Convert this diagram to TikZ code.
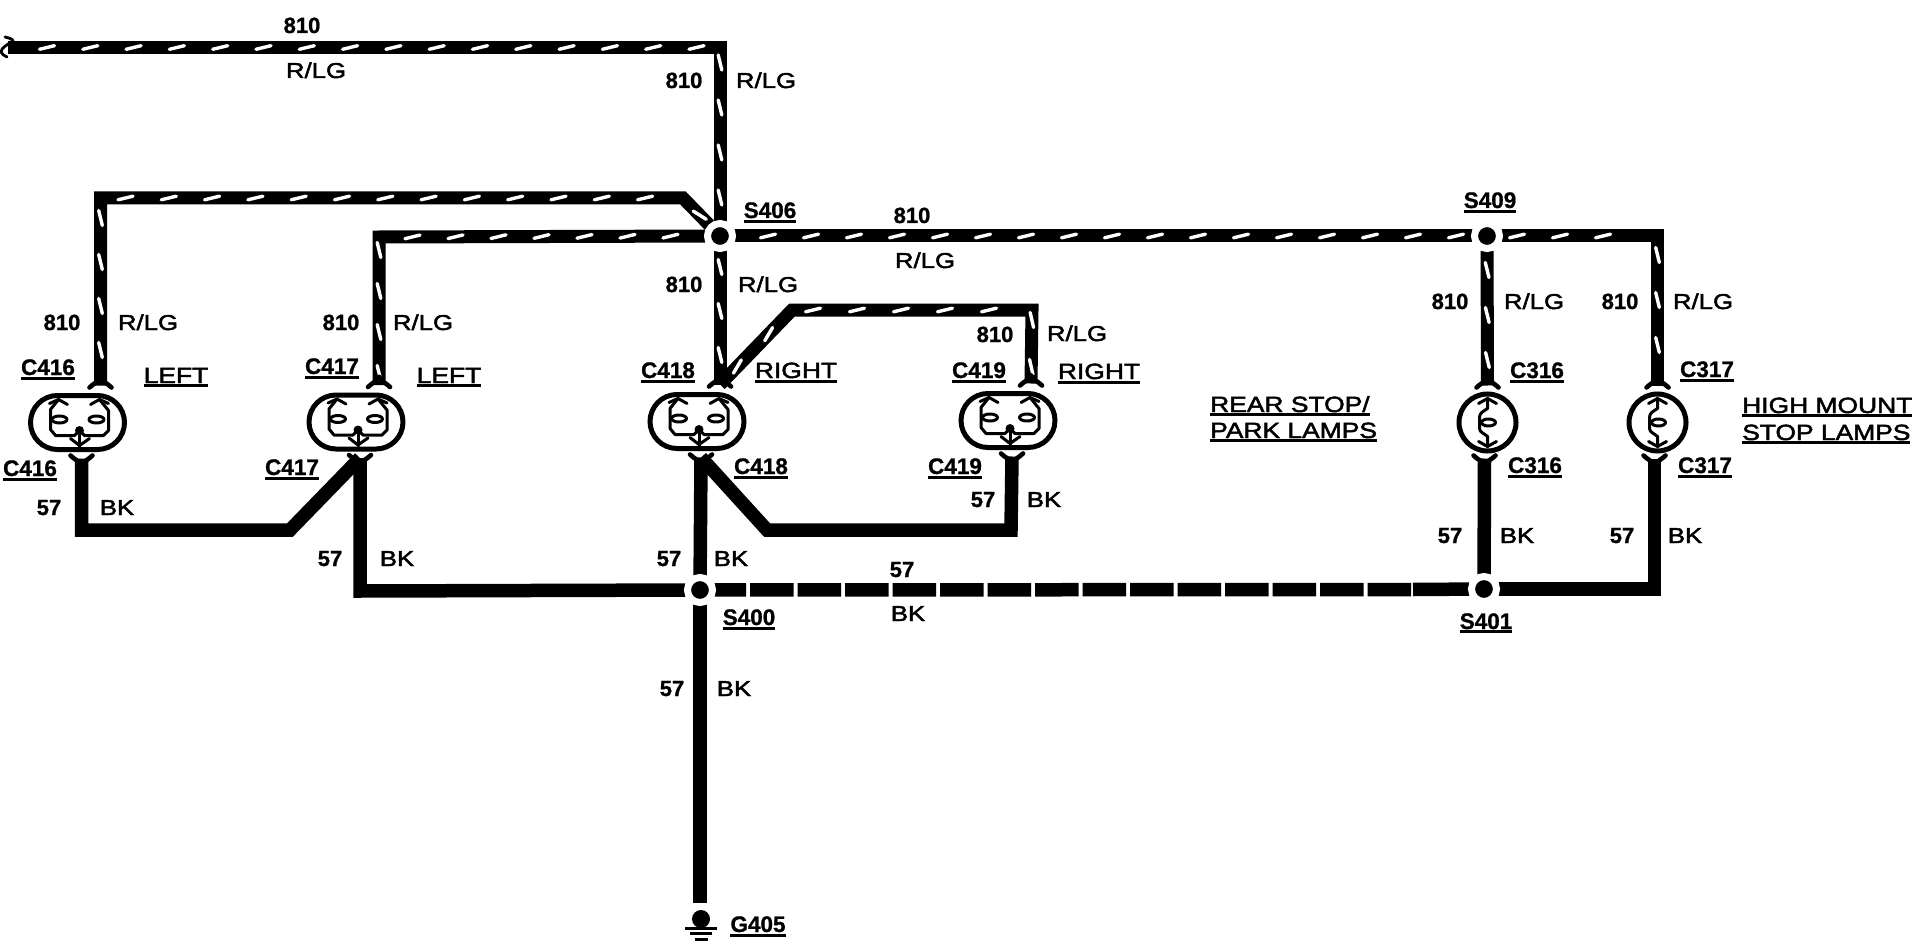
\documentclass[tikz,border=0pt]{standalone}
\usepackage{fontspec}
\setmainfont{Liberation Sans}
\newfontfamily\widefont[FakeStretch=1.2,FakeBold=2.2]{Liberation Sans}
\newfontfamily\numfont[UprightFont=* Bold,FakeBold=1]{Liberation Sans}
\usetikzlibrary{decorations.markings,backgrounds}
\newcommand{\ulbl}[2][1.5pt]{\vtop{\hbox{#2}\kern#1\hrule height 3pt}}
\tikzset{
  x=1pt,y=-1pt,
  wire/.style={line width=13pt,black},
  bkwire/.style={line width=13.5pt,black},
  stripes/.style n args={3}{postaction={decorate},decoration={markings,
    mark=between positions #1pt and #2pt step #3pt with {\draw[white,line width=3.4pt,line cap=round] (-7.5pt,-1.8pt)--(7.5pt,1.8pt);}}},
  junction/.style={circle,fill=black,draw=white,line width=7pt,minimum size=25pt,inner sep=0pt,outer sep=0pt},
  num/.style={anchor=base,inner sep=0pt,font=\fontsize{22}{24}\selectfont\numfont},
  col/.style={anchor=base,inner sep=0pt,font=\fontsize{21.5}{24}\selectfont\widefont},
  tagb/.style={anchor=base,inner sep=0pt,font=\fontsize{22.5}{24}\selectfont\numfont},
  tagw/.style={anchor=base,inner sep=0pt,font=\fontsize{22}{24}\selectfont\widefont},
  tagl/.style={anchor=base west,inner sep=0pt,font=\fontsize{22}{24}\selectfont\widefont},
  fine/.style={line width=3pt,black,line cap=round,line join=round},
  forkline/.style={line width=4.6pt,black,line cap=round},
  forktop/.pic={
    \draw[forkline] (-11,2) .. controls (-7,-2) and (-3,-3) .. (0,-8);
    \draw[forkline] (11,2) .. controls (7,-2) and (3,-3) .. (0,-8);},
  forkbot/.pic={
    \draw[forkline] (-11,-3) .. controls (-7,1) and (-3,2) .. (0,7);
    \draw[forkline] (11,-3) .. controls (7,1) and (3,2) .. (0,7);},
  plug/.pic={
    \draw[line width=5pt,rounded corners=27] (-47,-27) rectangle (47,27);
    \draw[fine] (-19,-23)--(-27,-13)--(-27,7) -- (-22,13) -- (-3,13) -- (2,8) -- (7,13) -- (26,13) -- (31,8) -- (31,-12) -- (22,-23);
    \draw[fine] (-28,-19)--(-19,-23)--(-10,-18);
    \draw[fine] (13,-18)--(22,-23)--(31,-19);
    \draw[fine,fill=white] (-18,-3) ellipse (7.5 and 3.5);
    \draw[fine,fill=white] (19,-3) ellipse (7.5 and 3.5);
    \fill (2,8) circle (4.5);
    \draw[fine] (2,8)--(2,24);
    \draw[fine] (-7,16)--(2,23)--(12,16);
    \coordinate (-top) at (23,-37);
    \coordinate (-bot) at (4,36);
    \pic at (-top) {forktop};
    \pic at (-bot) {forkbot};},
  lampc/.pic={
    \draw[line width=5pt] (0,0) circle (28.5);
    \draw[fine] (0,-24)--(0,-14) .. controls (-4,-11) and (-8,-10) .. (-8,-5) -- (-8,6) .. controls (-8,10) and (-3,11) .. (0,14) -- (0,24);
    \draw[fine] (-9,-19)--(0,-24)--(9,-19);
    \draw[fine] (-9,19)--(0,24)--(9,19);
    \draw[fine,fill=white] (1,0) ellipse (7 and 3.5);
    \coordinate (-top) at (0,-37);
    \coordinate (-bot) at (-3,36);
    \pic at (-top) {forktop};
    \pic at (-bot) {forkbot};},
}
\begin{document}
\begin{tikzpicture}
\useasboundingbox (0,0) rectangle (1912,944);
% junctions
\node[junction] (S406) at (720,236) {};
\node[junction] (S409) at (1487,236) {};
\node[junction] (S400) at (700,590) {};
\node[junction] (S401) at (1484,589) {};
% connectors
\pic (c416) at (77.5,422.5) {plug};
\pic (c417) at (356,422) {plug};
\pic (c418) at (697,421.5) {plug};
\pic (c419) at (1008,420.5) {plug};
\pic (c316) at (1487.5,422.5) {lampc};
\pic (c317) at (1657.5,422.5) {lampc};
% ground
\node[circle,fill=black,minimum size=18pt,inner sep=0pt] (G405) at (701,919) {};
\coordinate (g1a) at (685,928); \coordinate (g1b) at (717,928);
\coordinate (g2a) at (690,933); \coordinate (g2b) at (712,933);
\coordinate (g3a) at (695,939); \coordinate (g3b) at (708,939);
\draw[line width=3pt] (g1a)--(g1b) (g2a)--(g2b) (g3a)--(g3b);
% bends
\coordinate (brk) at (8,47.5);
\coordinate (tc) at (720,47.5);
\coordinate (a1) at (100.5,198);
\coordinate (a2) at (683,198);
\coordinate (b1) at (379,237);
\coordinate (d1) at (792,310);
\coordinate (d2) at (1032,310);
\coordinate (e1) at (1657.5,236);
\coordinate (f1) at (81.5,530);
\coordinate (f2) at (290,530);
\coordinate (h1) at (360,591);
\coordinate (k1) at (767,530);
\coordinate (k2) at (1011,530);
\coordinate (m1) at (1654.5,589);
\coordinate (s1) at (1413,589.5);
\coordinate (gtop) at (700,903);
\begin{scope}[on background layer]
 % 810 wires
 \draw[wire,miter limit=10] (brk)--(tc)--(S406);
 \path[stripes={39}{-20}{43.3}] (brk)--(tc);
 \path[stripes={15}{-26}{45}] (tc)--(S406.center);
 \draw[wire] (c416-top)--(a1)--(a2)--(S406);
 \path[stripes={20}{-12}{44}] (a1)--(c416-top);
 \path[stripes={25}{-12}{43.3}] (a1)--(a2);
 \path[stripes={24}{-25}{45}] (a2)--(S406.center);
 \draw[wire] (c417-top)--(b1)--(S406);
 \path[stripes={13}{-12}{41}] (b1)--(c417-top);
 \path[stripes={33.5}{-22}{43}] (b1)--(S406.center);
 \draw[wire] (S406)--(c418-top);
 \path[stripes={31}{-18}{44}] (S406.center)--(c418-top);
 \draw[wire] (c418-top)--(d1)--(d2)--(c419-top);
 \path[stripes={25}{-12}{45}] (c418-top)--(d1);
 \path[stripes={21}{-20}{44}] (d1)--(d2);
 \path[stripes={10}{-8}{47}] (d2)--(c419-top);
 \draw[wire] (S406)--(S409);
 \path[stripes={48}{-20}{43}] (S406.center)--(S409.center);
 \draw[wire] (S409)--(c316-top);
 \path[stripes={34}{-8}{45}] (S409.center)--(c316-top);
 \draw[wire] (S409)--(e1)--(c317-top);
 \path[stripes={30}{-16}{43}] (S409.center)--(e1);
 \path[stripes={19}{-12}{45}] (e1)--(c317-top);
 % 57 wires
 \draw[bkwire] (c416-bot)--(f1)--(f2)--(c417-bot);
 \draw[bkwire] (c417-bot)--(h1)--(S400);
 \draw[bkwire] (c418-bot)--(S400);
 \draw[bkwire] (c418-bot)--(k1)--(k2)--(c419-bot);
 \draw[bkwire,dash pattern=on 43.5pt off 4pt,dash phase=45pt] (S400.center)--(s1);
 \draw[bkwire] (s1)--(S401);
 \draw[bkwire] (S401)--(m1)--(c317-bot);
 \draw[bkwire] (c316-bot)--(S401);
 \draw[bkwire] (S400)--(gtop);
\end{scope}
% wire break
\draw[line width=2.8pt,line cap=round] (5,37) .. controls (9,38) and (13,39) .. (13,41) .. controls (8,44) and (1,48) .. (1,52) .. controls (2,54) and (4,56) .. (7,57);
% numbers
\node[num] (t1) at (302,33) {810};
\node[num] (t2) at (684,88) {810};
\node[num] (t3) at (912,223) {810};
\node[num] (t4) at (62,330) {810};
\node[num] (t5) at (341,330) {810};
\node[num] (t6) at (684,292) {810};
\node[num] (t7) at (995,342) {810};
\node[num] (t8) at (1450,309) {810};
\node[num] (t9) at (1620,309) {810};
\node[num] (t10) at (49,515) {57};
\node[num] (t11) at (330,566) {57};
\node[num] (t12) at (983,507) {57};
\node[num] (t13) at (669,566) {57};
\node[num] (t14) at (902,577) {57};
\node[num] (t15) at (672,696) {57};
\node[num] (t16) at (1450,543) {57};
\node[num] (t17) at (1622,543) {57};
% colours
\node[col] (r1) at (316,78) {R/LG};
\node[col] (r2) at (766,88) {R/LG};
\node[col] (r3) at (925,268) {R/LG};
\node[col] (r4) at (148,330) {R/LG};
\node[col] (r5) at (423,330) {R/LG};
\node[col] (r6) at (768,292) {R/LG};
\node[col] (r7) at (1077,341) {R/LG};
\node[col] (r8) at (1534,309) {R/LG};
\node[col] (r9) at (1703,309) {R/LG};
\node[col] (k01) at (117,515) {BK};
\node[col] (k02) at (397,566) {BK};
\node[col] (k03) at (1044,507) {BK};
\node[col] (k04) at (731,566) {BK};
\node[col] (k05) at (908,621) {BK};
\node[col] (k06) at (734,696) {BK};
\node[col] (k07) at (1517,543) {BK};
\node[col] (k08) at (1685,543) {BK};
% tags
\node[tagb] (l1) at (48,375) {\ulbl{C416}};
\node[tagb] (l2) at (30,476) {\ulbl{C416}};
\node[tagb] (l3) at (332,374) {\ulbl{C417}};
\node[tagb] (l4) at (292,475) {\ulbl{C417}};
\node[tagb] (l5) at (668,378) {\ulbl{C418}};
\node[tagb] (l6) at (761,474) {\ulbl{C418}};
\node[tagb] (l7) at (979,378) {\ulbl{C419}};
\node[tagb] (l8) at (955,474) {\ulbl{C419}};
\node[tagb] (l9) at (1537,378) {\ulbl{C316}};
\node[tagb] (l10) at (1535,473) {\ulbl{C316}};
\node[tagb] (l11) at (1707,377) {\ulbl{C317}};
\node[tagb] (l12) at (1705,473) {\ulbl{C317}};
\node[tagb] (l13) at (770,218) {\ulbl{S406}};
\node[tagb] (l14) at (1490,208) {\ulbl{S409}};
\node[tagb] (l15) at (749,625) {\ulbl{S400}};
\node[tagb] (l16) at (1486,629) {\ulbl[0.5pt]{S401}};
\node[tagb] (l17) at (758,932) {\ulbl{G405}};
\node[tagw] (w1) at (176,383) {\ulbl[0.5pt]{LEFT}};
\node[tagw] (w2) at (449,383) {\ulbl[0.5pt]{LEFT}};
\node[tagw] (w3) at (796,378) {\ulbl{RIGHT}};
\node[tagw] (w4) at (1099,379) {\ulbl{RIGHT}};
\node[tagl] (w5) at (1210,412) {\ulbl[1pt]{REAR STOP/}};
\node[tagl] (w6) at (1210,438) {\ulbl[1pt]{PARK LAMPS}};
\node[tagl] (w7) at (1742,413) {\ulbl[1pt]{HIGH MOUNT}};
\node[tagl] (w8) at (1742,440) {\ulbl[1pt]{STOP LAMPS}};
\end{tikzpicture}
\end{document}
